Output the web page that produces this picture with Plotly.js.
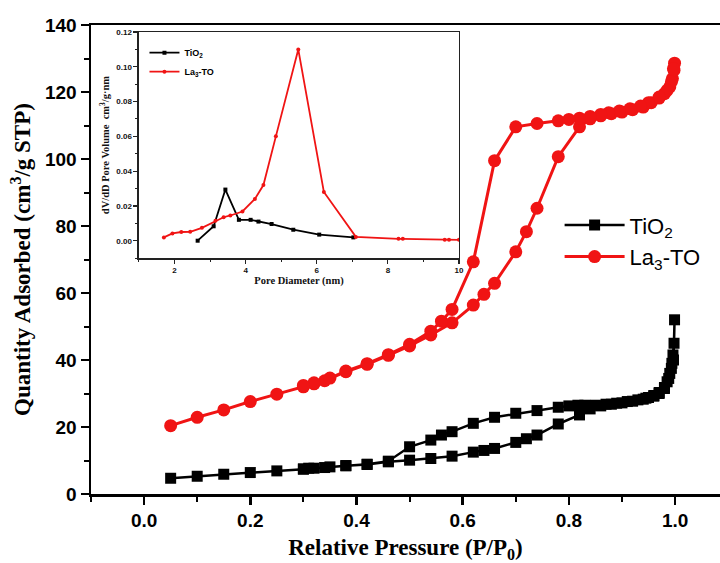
<!DOCTYPE html>
<html>
<head>
<meta charset="utf-8">
<script src="https://cdn.plot.ly/plotly-3.0.1.min.js"></script>
<style>html,body{margin:0;padding:0;background:#fff;}#chart{width:720px;height:563px;}</style>
</head>
<body>
<div id="chart"></div>
<script>
// ---- Main isotherm data (relative pressure P/P0, quantity adsorbed cm3/g STP) ----
var tio2AdsP = [0.05,0.10,0.15,0.20,0.25,0.30,0.32,0.34,0.38,0.42,0.46,0.50,0.54,0.58,0.62,0.64,0.66,0.70,0.72,0.74,0.78,0.82,0.84,0.86,0.88,0.90,0.92,0.94,0.95,0.96,0.97,0.98,0.985,0.99,0.994,0.996,0.998,0.999];
var tio2AdsQ = [4.7,5.3,5.9,6.4,6.9,7.4,7.7,7.9,8.4,8.8,9.6,10.1,10.6,11.3,12.5,13.0,13.6,15.4,16.5,17.6,20.9,23.6,25.4,26.3,26.8,27.2,27.7,28.3,28.8,29.4,30.3,31.8,33.5,36.0,39.0,41.5,45.0,52.0];
var tio2DesP = [0.997,0.993,0.988,0.98,0.97,0.96,0.945,0.93,0.91,0.89,0.87,0.85,0.83,0.817,0.80,0.78,0.74,0.70,0.66,0.62,0.58,0.56,0.54,0.50,0.46,0.42,0.38,0.35,0.31,0.30];
var tio2DesQ = [40.0,37.5,34.5,31.5,30.0,29.2,28.6,28.1,27.6,27.1,26.8,26.5,26.5,26.5,26.3,25.9,24.9,24.1,22.9,21.1,18.6,17.6,16.1,14.1,9.8,8.9,8.5,8.1,7.7,7.5];

var laAdsP = [0.05,0.10,0.15,0.20,0.25,0.30,0.32,0.34,0.38,0.42,0.46,0.50,0.54,0.58,0.62,0.64,0.66,0.70,0.72,0.74,0.78,0.82,0.84,0.86,0.88,0.90,0.92,0.94,0.955,0.97,0.98,0.99,0.995,0.998,0.999];
var laAdsQ = [20.4,22.9,25.1,27.6,29.8,32.0,32.9,33.8,36.5,38.7,41.4,44.2,47.5,51.1,56.4,59.6,62.9,72.3,78.3,85.3,100.7,109.6,112.0,112.9,113.5,114.0,114.7,115.5,116.8,118.2,119.5,121.5,124.0,126.5,128.6];
var laDesP = [0.997,0.993,0.985,0.97,0.95,0.935,0.915,0.895,0.875,0.86,0.84,0.82,0.80,0.78,0.74,0.70,0.66,0.62,0.58,0.56,0.54,0.50,0.46,0.42,0.38,0.35,0.32,0.30];
var laDesQ = [127.0,123.0,120.5,118.5,116.8,115.8,115.0,114.3,113.8,113.3,112.7,112.2,111.8,111.4,110.6,109.6,99.5,69.3,55.1,51.6,48.6,44.7,41.6,38.9,36.7,34.6,33.2,32.4];

// ---- Inset: pore size distribution (pore diameter nm, dV/dD) ----
var tio2PoreD = [2.65,3.10,3.43,3.81,4.14,4.36,4.73,5.34,6.07,7.03];
var tio2PoreV = [0.0,0.0083,0.0294,0.012,0.012,0.011,0.0096,0.0063,0.0035,0.0019];
var laPoreD = [1.70,1.94,2.19,2.44,2.77,3.15,3.38,3.57,3.91,4.26,4.50,4.85,5.48,6.20,7.10,8.30,8.42,9.60,9.72,10.0];
var laPoreV = [0.0019,0.0042,0.005,0.0051,0.0074,0.0115,0.0135,0.0145,0.0168,0.024,0.032,0.060,0.110,0.028,0.0022,0.0011,0.0011,0.0006,0.0006,0.0005];

var seriesNames = ['TiO<sub>2</sub>', 'La<sub>3</sub>-TO'];

var RED = '#f01414';
var BLACK = '#000000';

var traces = [
  {x: tio2AdsP.concat(tio2DesP), y: tio2AdsQ.concat(tio2DesQ), name: seriesNames[0], type: 'scatter', mode: 'lines+markers',
   line: {color: BLACK, width: 2.5}, marker: {symbol: 'square', size: 11, color: BLACK}, legend: 'legend'},
  {x: laAdsP.concat(laDesP), y: laAdsQ.concat(laDesQ), name: seriesNames[1], type: 'scatter', mode: 'lines+markers',
   line: {color: RED, width: 3}, marker: {symbol: 'circle', size: 13, color: RED}, legend: 'legend'},
  {x: tio2PoreD, y: tio2PoreV, name: seriesNames[0], type: 'scatter', mode: 'lines+markers', xaxis: 'x2', yaxis: 'y2',
   line: {color: BLACK, width: 1.8}, marker: {symbol: 'square', size: 4, color: BLACK}, legend: 'legend2'},
  {x: laPoreD, y: laPoreV, name: seriesNames[1], type: 'scatter', mode: 'lines+markers', xaxis: 'x2', yaxis: 'y2',
   line: {color: RED, width: 1.8}, marker: {symbol: 'circle', size: 4, color: RED}, legend: 'legend2'}
];

var tickFont = {family: 'Liberation Sans, Arial, sans-serif', size: 19, color: '#000', weight: 'bold'};
var titleFont = {family: 'Liberation Serif, Times New Roman, serif', size: 23, color: '#000', weight: 'bold'};
var insetTick = {family: 'Liberation Sans, Arial, sans-serif', size: 8, color: '#111', weight: 'bold'};
var insetTitle = {family: 'Liberation Serif, Times New Roman, serif', size: 10.5, color: '#111', weight: 'bold'};

var layout = {
  width: 720, height: 563,
  margin: {l: 91, r: 0, t: 25, b: 69},
  paper_bgcolor: '#fff', plot_bgcolor: '#fff',
  showlegend: true,
  xaxis: {
    domain: [0, 1], range: [-0.1, 1.0846], tick0: 0, dtick: 0.2, tickformat: '.1f',
    showgrid: false, zeroline: false, showline: true, linecolor: '#000', linewidth: 2.5, mirror: true,
    ticks: 'outside', ticklen: 8, tickwidth: 2.5, tickcolor: '#000',
    minor: {dtick: 0.1, tick0: 0, ticks: 'outside', ticklen: 5, tickwidth: 2, tickcolor: '#000', showgrid: false},
    tickfont: tickFont,
    title: {text: 'Relative Pressure (P/P<sub>0</sub>)', font: titleFont, standoff: 12}
  },
  yaxis: {
    domain: [0, 1], range: [0, 140], dtick: 20,
    showgrid: false, zeroline: false, showline: true, linecolor: '#000', linewidth: 2.5, mirror: false,
    ticks: 'outside', ticklen: 8, tickwidth: 2.5, tickcolor: '#000',
    minor: {dtick: 10, ticks: 'outside', ticklen: 5, tickwidth: 2, tickcolor: '#000', showgrid: false},
    tickfont: tickFont,
    title: {text: 'Quantity Adsorbed (cm<sup>3</sup>/g STP)', font: titleFont, standoff: 8}
  },
  xaxis2: {
    domain: [0.0763, 0.585], anchor: 'y2', range: [1, 10], dtick: 2, tick0: 0,
    showgrid: false, zeroline: false, showline: true, linecolor: '#222', linewidth: 1.5, mirror: true,
    ticks: 'outside', ticklen: 4, tickwidth: 1.2, tickcolor: '#222',
    minor: {dtick: 1, ticks: 'outside', ticklen: 2.5, tickwidth: 1, tickcolor: '#222'},
    tickfont: insetTick,
    title: {text: 'Pore Diameter (nm)', font: insetTitle, standoff: 2}
  },
  yaxis2: {
    domain: [0.503, 0.985], anchor: 'x2', range: [-0.01, 0.12], dtick: 0.02, tick0: 0, tickformat: '.2f',
    showgrid: false, zeroline: false, showline: true, linecolor: '#222', linewidth: 1.5, mirror: true,
    ticks: 'outside', ticklen: 4, tickwidth: 1.2, tickcolor: '#222',
    minor: {dtick: 0.01, ticks: 'outside', ticklen: 2.5, tickwidth: 1, tickcolor: '#222'},
    tickfont: insetTick,
    title: {text: 'dV/dD Pore Volume  cm<sup>3</sup>/g·nm', font: insetTitle, standoff: 4}
  },
  legend: {
    x: 0.745, y: 0.618, xanchor: 'left', yanchor: 'top', bgcolor: 'rgba(0,0,0,0)',
    font: {family: 'Liberation Sans, Arial, sans-serif', size: 22, color: '#000'},
    itemwidth: 60, tracegroupgap: 0
  },
  legend2: {
    x: 0.085, y: 0.972, xanchor: 'left', yanchor: 'top', bgcolor: 'rgba(0,0,0,0)',
    font: {family: 'Liberation Sans, Arial, sans-serif', size: 9, color: '#000', weight: 'bold'},
    itemwidth: 30, tracegroupgap: 0
  }
};

Plotly.newPlot('chart', traces, layout, {staticPlot: true, displayModeBar: false});
</script>
</body>
</html>
